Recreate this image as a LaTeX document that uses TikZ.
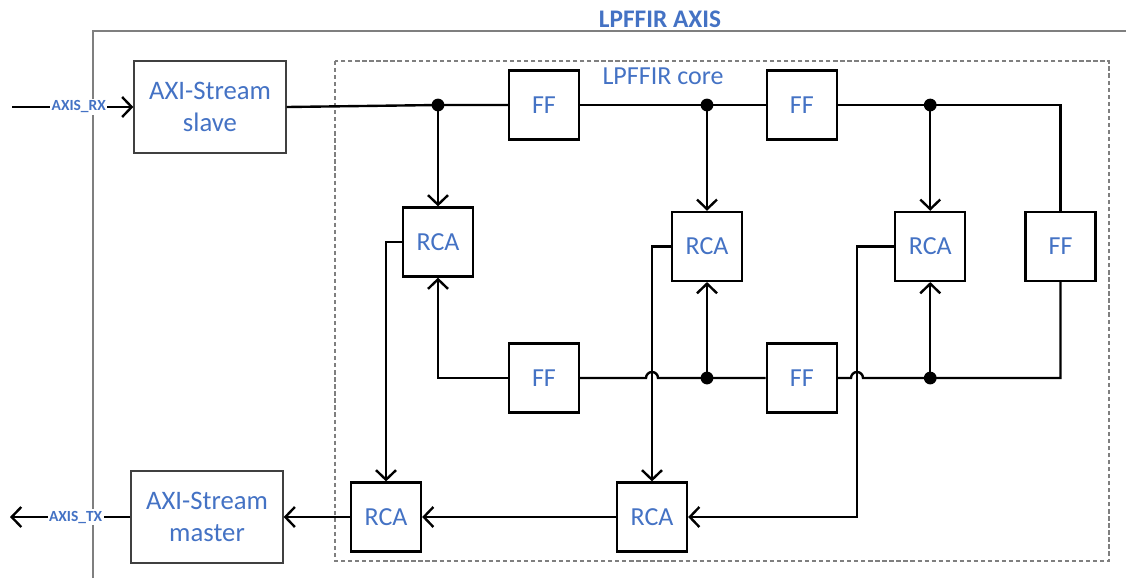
\documentclass[tikz,border=0pt]{standalone}
\usepackage{fontspec}
\setmainfont{Carlito}
\usepackage{xcolor}
\usepackage{tikz}
\usetikzlibrary{arrows.meta,calc,positioning}
\definecolor{axisblue}{HTML}{4472C4}
\definecolor{framegray}{HTML}{7F7F7F}
\definecolor{boxgray}{HTML}{404040}
\tikzset{
  axibox/.style={rectangle,draw=boxgray,line width=0.9pt,minimum width=3.8cm,minimum height=2.3cm,
    align=center,text=axisblue,font=\fontsize{19}{22.8}\selectfont},
  unitbox/.style={rectangle,draw=black,line width=1.6pt,minimum width=1.75cm,minimum height=1.725cm,
    inner sep=0pt,text=axisblue,font=\fontsize{18.5}{21}\selectfont},
  wire/.style={line width=1.7pt,draw=black},
  arrow/.style={wire,-{Straight Barb[length=2.4mm,width=5mm]}},
  iolabel/.style={fill=white,inner sep=1pt,text=axisblue,font=\fontsize{11}{12}\selectfont\bfseries},
  frameline/.style={line width=1.1pt,draw=framegray},
  coreline/.style={line width=0.8pt,draw=framegray,dash pattern=on 3pt off 2pt},
  junction/.style={circle,fill=black,inner sep=0pt,minimum size=0.32cm}
}
\begin{document}
\begin{tikzpicture}[node distance=1.5cm and 4.64cm]
\useasboundingbox (0,0) rectangle (28.15,-14.45);

% outer block and core region
\draw[frameline] (2.325,-14.45) |- (28.15,-0.775);
\node[text=axisblue,font=\fontsize{18}{20}\selectfont\bfseries] (title) at (16.5,-0.475) {LPFFIR AXIS};
\draw[coreline] (8.375,-1.525) rectangle (27.725,-14.025);
\node[text=axisblue,font=\fontsize{18.5}{21}\selectfont] (corename) at (16.575,-1.9) {LPFFIR core};

\node[axibox] (slave) at (5.25,-2.675) {AXI-Stream\\slave};
\node[axibox] (master) at (5.175,-12.925) {AXI-Stream\\master};

\node[unitbox] (ff1) at (13.6,-2.625) {FF};
\node[unitbox,right=of ff1] (ff2) {FF};
\node[unitbox] (ff3) at (13.6,-9.45) {FF};
\node[unitbox,right=of ff3] (ff4) {FF};

\node[unitbox] (rca1) at (10.95,-6.05) {RCA};
\node[unitbox] (rca2) at (17.675,-6.16) {RCA};
\node[unitbox,right=3.775cm of rca2] (rca3) {RCA};
\node[unitbox,right=1.45cm of rca3] (ffr) {FF};
\node[unitbox] (rca4) at (9.65,-12.925) {RCA};
\node[unitbox] (rca5) at (16.3,-12.925) {RCA};

\coordinate (rxin) at (0.3,-2.675);
\coordinate (txout) at (0.25,-12.925);
\coordinate (j1) at (rca1 |- ff1);
\coordinate (j2) at (rca2 |- ff2);
\coordinate (j3) at (rca3 |- ff2);
\coordinate (j4) at (rca2 |- ff4);
\coordinate (j5) at (rca3 |- ff4);
\coordinate (bend) at (21.425,-12.925);

% stream in / out
\draw[arrow] (rxin) -- node[iolabel,pos=0.55] {AXIS\_RX} (slave.west);
\draw[arrow] (master.west) -- node[iolabel,pos=0.455] {AXIS\_TX} (txout);

% delay line
\draw[wire] (slave.east) -- (j1) -- (ff1.west);
\draw[wire] (ff1.east) -- (j2) -- (ff2.west);
\draw[wire] (ff2.east) -- (j3) -| (ffr.north);
\draw[wire] (ffr.south) |- (j5) -- ($(bend |- j5)+(0.15,0)$) arc[start angle=0,end angle=180,radius=0.15cm] -- (ff4.east);
\draw[wire] (ff4.west) -- (j4) -- ($(rca5 |- j4)+(0.15,0)$) arc[start angle=0,end angle=180,radius=0.15cm] -- (ff3.east);
\draw[arrow] (ff3.west) -| (rca1.south);

% taps into the adders
\draw[arrow] (j1) -- (rca1.north);
\draw[arrow] (j2) -- (rca2.north);
\draw[arrow] (j3) -- (rca3.north);
\draw[arrow] (j4) -- (rca2.south);
\draw[arrow] (j5) -- (rca3.south);

% adder tree
\draw[arrow] (rca1.west) -| (rca4.north);
\draw[arrow] (rca2.west) -| (rca5.north);
\draw[arrow] (rca3.west) -| (bend) -- (rca5.east);
\draw[arrow] (rca5.west) -- (rca4.east);
\draw[arrow] (rca4.west) -- (master.east);

\foreach \j in {j1,j2,j3,j4,j5}
  \node[junction] at (\j) {};
\end{tikzpicture}
\end{document}
